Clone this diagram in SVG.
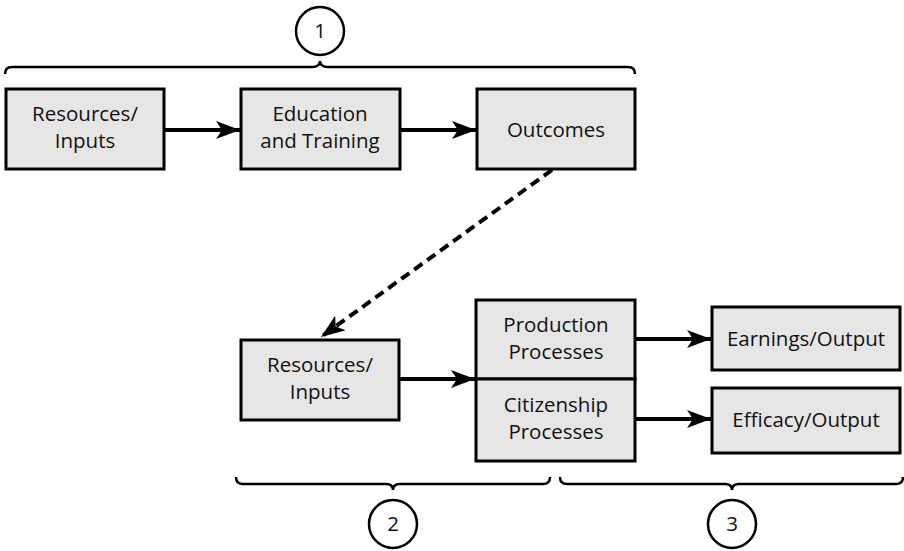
<svg xmlns="http://www.w3.org/2000/svg" width="904" height="551" viewBox="0 0 904 551">
<style>
.box{fill:#e6e6e6;stroke:#000;stroke-width:3}
.t{font-family:"Open Sans","Noto Sans",sans-serif;font-size:20.5px;fill:#111;text-anchor:middle}
.c{fill:#fff;stroke:#000;stroke-width:2.5}
.br{fill:none;stroke:#000;stroke-width:2.5}
.ar{stroke:#000;stroke-width:4;fill:none}
</style>
<defs>
<marker id="arr" viewBox="0 0 24 18" refX="24" refY="9" markerWidth="24" markerHeight="18" markerUnits="userSpaceOnUse" orient="auto">
<path d="M0,0 L24,9 L0,18 L6,9 Z" fill="#000"/>
</marker>
</defs>
<rect width="904" height="551" fill="#fff"/>
<g id="connectors">
<line class="ar" x1="164" y1="130" x2="240" y2="130" marker-end="url(#arr)"/>
<line class="ar" x1="400" y1="130" x2="476" y2="130" marker-end="url(#arr)"/>
<line class="ar" x1="552" y1="170" x2="321" y2="337" stroke-dasharray="10,6" marker-end="url(#arr)"/>
<line class="ar" x1="399" y1="379" x2="475" y2="379" marker-end="url(#arr)"/>
<line class="ar" x1="635" y1="339" x2="711" y2="339" marker-end="url(#arr)"/>
<line class="ar" x1="635" y1="419" x2="711" y2="419" marker-end="url(#arr)"/>
</g>
<g id="brackets">
<path class="br" d="M5,74 Q5,67 12,67 L312,67 Q320,67 320,61 Q320,67 328,67 L628,67 Q635,67 635,74"/>
<path class="br" d="M236,477 Q236,484 243,484 L386,484 Q393,484 393,490 Q393,484 400,484 L543,484 Q550,484 550,477"/>
<path class="br" d="M560,477 Q560,484 567,484 L725,484 Q732,484 732,490 Q732,484 739,484 L896,484 Q903,484 903,477"/>
</g>
<g id="label1"><circle class="c" cx="320" cy="31" r="24"/><text class="t" x="320" y="38">1</text></g>
<g id="label2"><circle class="c" cx="393" cy="524" r="24"/><text class="t" x="393" y="531">2</text></g>
<g id="label3"><circle class="c" cx="732" cy="524" r="24"/><text class="t" x="732" y="531">3</text></g>
<g id="resources1"><rect class="box" x="6" y="89" width="158" height="80"/><text class="t" x="85" y="121">Resources/</text><text class="t" x="85" y="148">Inputs</text></g>
<g id="education"><rect class="box" x="241" y="89" width="159" height="80"/><text class="t" x="320" y="121">Education</text><text class="t" x="320" y="148">and Training</text></g>
<g id="outcomes"><rect class="box" x="477" y="89" width="158" height="80"/><text class="t" x="556" y="137">Outcomes</text></g>
<g id="resources2"><rect class="box" x="241" y="340" width="158" height="80"/><text class="t" x="320" y="372">Resources/</text><text class="t" x="320" y="399">Inputs</text></g>
<g id="production"><rect class="box" x="476" y="300" width="159" height="79"/><text class="t" x="556" y="332">Production</text><text class="t" x="556" y="359">Processes</text></g>
<g id="citizenship"><rect class="box" x="476" y="379" width="159" height="82"/><text class="t" x="556" y="412">Citizenship</text><text class="t" x="556" y="439">Processes</text></g>
<g id="earnings"><rect class="box" x="712" y="307" width="188" height="63"/><text class="t" x="806" y="346">Earnings/Output</text></g>
<g id="efficacy"><rect class="box" x="712" y="388" width="188" height="65"/><text class="t" x="806" y="427">Efficacy/Output</text></g>
</svg>
